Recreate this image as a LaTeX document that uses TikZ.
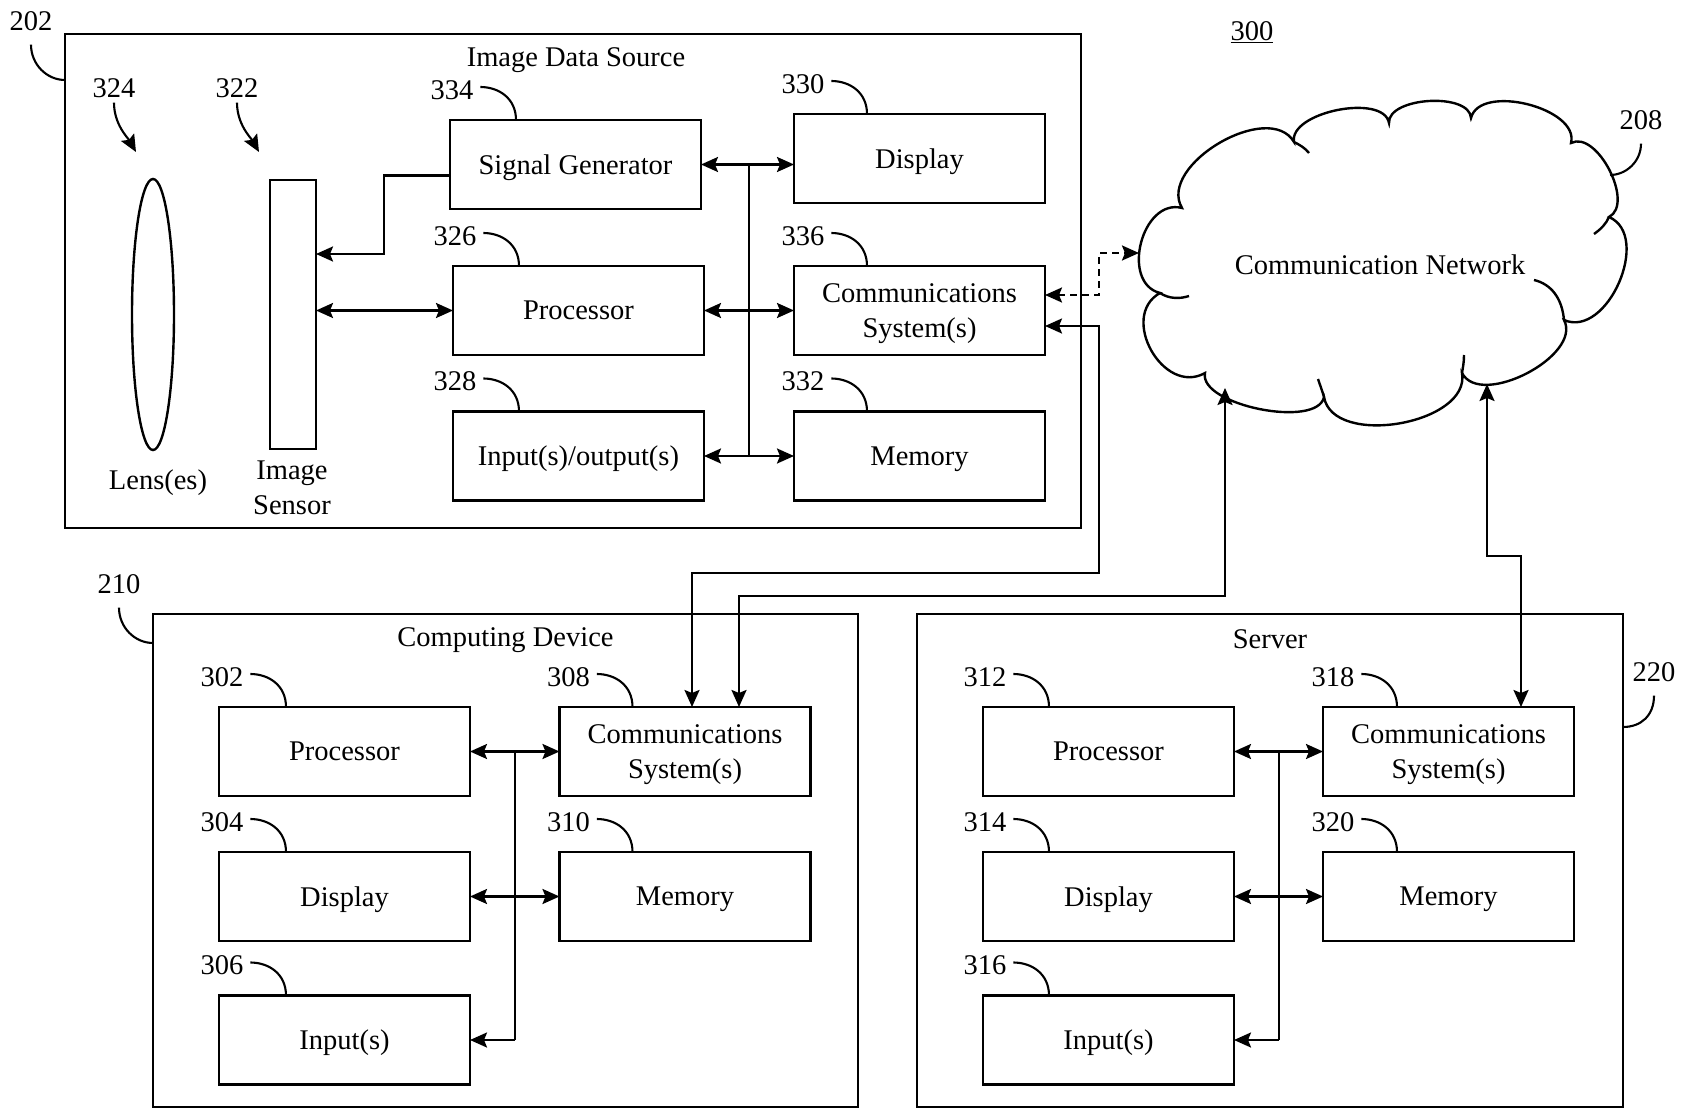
\documentclass[tikz,border=0pt]{standalone}
\usepackage{fontspec}
\setmainfont{Liberation Serif}
\usetikzlibrary{arrows.meta,calc,shapes.geometric}
\newcommand\refmark[4]{%
  \node (#1) at ($(#2.north west)+(#4,-30)$) {#3};
  \draw[lead] ($(#1.east)+(7,-3)$) .. controls +(18,0) and +(0,-22) .. ($(#2.north west)+(#4+64,0)$);
}
\begin{document}
\begin{tikzpicture}[x=1pt,y=-1pt,
  >={Stealth[length=17pt,width=15pt,inset=3pt]},
  every node/.style={font=\fontsize{28.5}{34.5}\selectfont, inner sep=0pt, outer sep=0pt},
  ln/.style={line width=2.4pt},
  lead/.style={line width=2.1pt},
  blk/.style={draw, line width=2.4pt, minimum width=251pt, minimum height=89pt, align=center, text depth=0pt},
  frm/.style={draw, line width=2.4pt},
  dsh/.style={line width=2.4pt, dash pattern=on 7pt off 5pt},
]
\useasboundingbox (0,0) rectangle (1690,1110);
\fill[white] (0,0) rectangle (1690,1110);

% ---------- frames ----------
\node[frm, minimum width=1016pt, minimum height=494pt] (ids) at (573,281) {};
\node[frm, minimum width=705pt, minimum height=493pt] (cd) at (505.5,860.5) {};
\node[frm, minimum width=706pt, minimum height=493pt] (srv) at (1270,860.5) {};
\node (idst) at (576,60) {Image Data Source};
\node (cdt) at (505.5,640) {Computing Device};
\node (srvt) at (1270,639) {Server};

% frame reference numbers
\node (n202) at (31,21) {202};
\draw[lead] ($(n202.south)+(0,14)$) .. controls +(0,20) and +(-18,0) .. ($(ids.north west)+(0,46)$);
\node (n210) at (119,584) {210};
\draw[lead] ($(n210.south)+(0,14)$) .. controls +(0,20) and +(-18,0) .. ($(cd.north west)+(0,29)$);
\node (n220) at (1654,672) {220};
\draw[lead] ($(n220.south)+(0,14)$) .. controls +(0,20) and +(18,0) .. ($(srv.north east)+(0,113)$);
\node (n300) at (1252,32) {\underline{300}};

% ---------- image data source ----------
\node[draw, ellipse, line width=2.4pt, minimum width=42pt, minimum height=271pt] (lens) at (153,314.5) {};
\node[draw, line width=2.4pt, minimum width=46pt, minimum height=269pt] (sensor) at (293,314.5) {};
\node (lensl) at (158,483) {Lens(es)};
\node[align=center] (sensl) at (292,488) {Image\\Sensor};
\node (n324) at (114,88) {324};
\node (n322) at (237,88) {322};
\coordinate (p324) at (136,152);
\coordinate (p322) at (259,152);
\draw[lead,->] ($(n324.south)+(0,5)$) .. controls +(0,22) and +(-8,-14) .. (p324);
\draw[lead,->] ($(n322.south)+(0,5)$) .. controls +(0,22) and +(-8,-14) .. (p322);

\node[blk] (sg) at (575.5,164.5) {Signal Generator};
\node[blk] (ip) at (578.5,310.5) {Processor};
\node[blk] (io) at (578.5,456) {Input(s)/output(s)};
\node[blk] (idisp) at (919.5,158.5) {Display};
\node[blk] (icomm) at (919.5,310.5) {Communications\\System(s)};
\node[blk] (imem) at (919.5,456) {Memory};
\refmark{n334}{sg}{334}{2}
\refmark{n326}{ip}{326}{2}
\refmark{n328}{io}{328}{2}
\refmark{n330}{idisp}{330}{9}
\refmark{n336}{icomm}{336}{9}
\refmark{n332}{imem}{332}{9}

\coordinate (ib1) at (749,164.5);
\coordinate (ib2) at (749,456);
\draw[ln,<->] (sg.east) -- (idisp.west |- sg.east);
\draw[ln] (ib1) -- (ib2);
\draw[ln,<->] (ip.east) -- (icomm.west |- ip.east);
\draw[ln,<->] (io.east) -- (imem.west |- io.east);
\coordinate (sgk) at (384,254);
\draw[ln,->] ($(sg.west)+(0,11)$) -| (sgk) -- (sensor.east |- sgk);
\draw[ln,<->] (sensor.east |- ip.west) -- (ip.west);

% ---------- computing device ----------
\node[blk] (cproc) at (344.5,751.5) {Processor};
\node[blk] (cdisp) at (344.5,896.5) {Display};
\node[blk] (cin) at (344.5,1040) {Input(s)};
\node[blk] (ccomm) at (685,751.5) {Communications\\System(s)};
\node[blk] (cmem) at (685,896.5) {Memory};
\refmark{n302}{cproc}{302}{3}
\refmark{n304}{cdisp}{304}{3}
\refmark{n306}{cin}{306}{3}
\refmark{n308}{ccomm}{308}{9}
\refmark{n310}{cmem}{310}{9}
\coordinate (cbusa) at (515,751.5);
\coordinate (cbusb) at (515,1040);
\draw[ln,<->] (cproc.east) -- (ccomm.west);
\draw[ln,<->] (cdisp.east) -- (cmem.west);
\draw[ln] (cbusa) -- (cbusb);
\draw[ln,->] (cbusb) -- (cin.east);

% ---------- server ----------
\node[blk] (sproc) at (1108.5,751.5) {Processor};
\node[blk] (sdisp) at (1108.5,896.5) {Display};
\node[blk] (sin) at (1108.5,1040) {Input(s)};
\node[blk] (scomm) at (1448.5,751.5) {Communications\\System(s)};
\node[blk] (smem) at (1448.5,896.5) {Memory};
\refmark{n312}{sproc}{312}{2}
\refmark{n314}{sdisp}{314}{2}
\refmark{n316}{sin}{316}{2}
\refmark{n318}{scomm}{318}{10}
\refmark{n320}{smem}{320}{10}
\coordinate (sbusa) at (1279,751.5);
\coordinate (sbusb) at (1279,1040);
\draw[ln,<->] (sproc.east) -- (scomm.west);
\draw[ln,<->] (sdisp.east) -- (smem.west);
\draw[ln] (sbusa) -- (sbusb);
\draw[ln,->] (sbusb) -- (sin.east);

% ---------- cloud ----------
\draw[ln] (1182,208) .. controls (1156.9,165.4) and (1268.9,99.4) .. (1294,142)
 .. controls (1288.7,112) and (1383.7,93) .. (1389,123)
 .. controls (1387.6,97) and (1469.6,92) .. (1471,118)
 .. controls (1479.75,83) and (1579.75,108) .. (1571,143)
 .. controls (1596.9,129.7) and (1634.9,203.7) .. (1609,217)
 .. controls (1652.3,235.9) and (1607.3,338.9) .. (1564,320)
 .. controls (1582.6,355.7) and (1480.6,408.7) .. (1462,373)
 .. controls (1470.9,424.1) and (1332.9,448.1) .. (1324,397)
 .. controls (1317.5,429.1) and (1198.5,405.1) .. (1205,373)
 .. controls (1163.4,396.4) and (1118.4,316.4) .. (1160,293)
 .. controls (1120,282.7) and (1142,197.7) .. (1182,208) -- cycle;
\draw[ln] (1294,142) .. controls (1300,145) and (1305,148) .. (1309,153);
\draw[ln] (1609,217) .. controls (1606,224) and (1601,229) .. (1594,234);
\draw[ln] (1534,280) .. controls (1551,284) and (1562,298) .. (1564,320);
\draw[ln] (1462,373) .. controls (1463,367) and (1464,362) .. (1464,355);
\draw[ln] (1324,397) .. controls (1322,390) and (1320,385) .. (1318,379);
\draw[ln] (1160,293) .. controls (1169,299) and (1180,299) .. (1189,296);
\node (cnt) at (1380,265) {Communication Network};
\node (n208) at (1641,120) {208};
\draw[lead] ($(n208.south)+(0,14)$) .. controls +(0,18) and +(16,0) .. (1610,175);

% ---------- network connectors ----------
\coordinate (cl) at (1139,253);
\coordinate (dk1) at (1099,295);
\draw[dsh,<->] ($(icomm.east)+(0,-15.5)$) -- (dk1) |- (cl);

\coordinate (s1a) at (1099,326);
\coordinate (s1b) at (1099,573);
\coordinate (s1c) at (692,573);
\draw[ln,<->] (icomm.east |- s1a) -- (s1a) -- (s1b) -- (s1c) -- (s1c |- ccomm.north);

\coordinate (cb1) at (1225,388);
\coordinate (s2b) at (1225,596);
\coordinate (s2c) at (739,596);
\draw[ln,<->] (cb1) -- (s2b) -- (s2c) -- (s2c |- ccomm.north);

\coordinate (cb2) at (1487,384);
\coordinate (s3b) at (1487,556);
\coordinate (s3c) at (1521,556);
\draw[ln,<->] (cb2) -- (s3b) -- (s3c) -- (s3c |- scomm.north);
\end{tikzpicture}
\end{document}
